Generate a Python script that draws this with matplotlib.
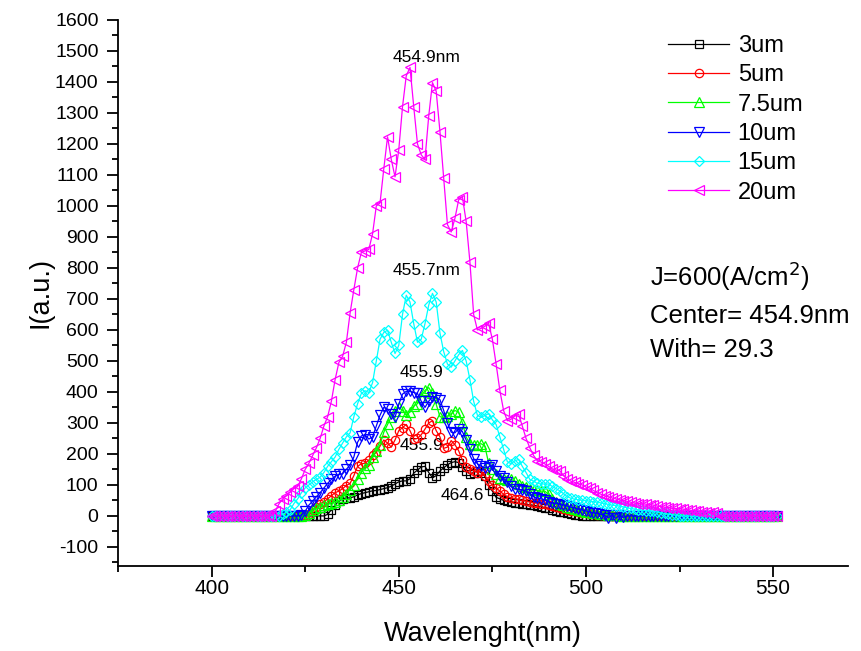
import numpy as np
import matplotlib
matplotlib.use("Agg")
import matplotlib.pyplot as plt
from matplotlib.ticker import MultipleLocator

plt.rcParams['font.family'] = ['Liberation Sans', 'DejaVu Sans']
plt.rcParams['axes.unicode_minus'] = False

# wavelength grid (nm), 400 .. 551
wavelength = np.arange(400, 552, 1)

i_3um = [
    0, 0, 0, 0, 0, 0, 0, 0, 0, 0,
    0, 0, 0, 0, 0, 0, 0, 0, 0, 0,
    0, 0, 0, 0, 0, 0, 0, 0, 0, 0,
    0, 5, 20, 35, 48, 56, 58, 58, 62, 68,
    72, 75, 78, 81, 82, 85, 88, 91, 96, 103,
    110, 113, 113, 120, 138, 148, 158, 160, 140, 123,
    130, 145, 155, 165, 172, 175, 172, 158, 145, 136,
    140, 146, 140, 128, 100, 80, 60, 55, 50, 47,
    45, 43, 41, 39, 38, 36, 34, 32, 30, 27,
    24, 20, 17, 14, 11, 8, 6, 4, 2, 0,
    0, 0, 0, 0, 0, 0, 0, 0, 0, 0,
    0, 0, 0, 0, 0, 0, 0, 0, 0, 0,
    0, 0, 0, 0, 0, 0, 0, 0, 0, 0,
    0, 0, 0, 0, 0, 0, 0, 0, 0, 0,
    0, 0, 0, 0, 0, 0, 0, 0, 0, 0,
    0, 0]

i_5um = [
    0, 0, 0, 0, 0, 0, 0, 0, 0, 0,
    0, 0, 0, 0, 0, 0, 0, 0, 0, 0,
    0, 0, 0, 0, 0, 2, 6, 20, 30, 40,
    45, 55, 65, 75, 80, 88, 98, 105, 130, 160,
    168, 170, 180, 195, 205, 225, 245, 235, 222, 245,
    275, 285, 295, 275, 248, 250, 262, 280, 300, 307,
    275, 255, 218, 222, 243, 230, 210, 180, 158, 152,
    146, 140, 145, 130, 112, 100, 90, 80, 70, 62,
    58, 56, 53, 50, 48, 45, 43, 41, 40, 39,
    36, 32, 29, 26, 23, 20, 17, 15, 12, 10,
    8, 7, 5, 4, 3, 2, 1, 0, 0, 0,
    0, 0, 0, 0, 0, 0, 0, 0, 0, 0,
    0, 0, 0, 0, 0, 0, 0, 0, 0, 0,
    0, 0, 0, 0, 0, 0, 0, 0, 0, 0,
    0, 0, 0, 0, 0, 0, 0, 0, 0, 0,
    0, 0]

i_7_5um = [
    0, 0, 0, 0, 0, 0, 0, 0, 0, 0,
    0, 0, 0, 0, 0, 0, 0, 0, 0, 0,
    0, 0, 0, 0, 0, 3, 10, 18, 25, 30,
    35, 38, 42, 46, 50, 60, 72, 85, 100, 120,
    140, 155, 165, 190, 210, 230, 270, 295, 320, 340,
    350, 340, 325, 335, 355, 362, 385, 405, 414, 395,
    360, 320, 318, 322, 330, 340, 335, 300, 255, 233,
    228, 230, 233, 225, 170, 150, 135, 123, 118, 115,
    118, 112, 104, 98, 92, 88, 85, 82, 80, 80,
    70, 55, 45, 40, 35, 30, 26, 22, 19, 16,
    14, 12, 10, 8, 7, 5, 4, 3, 2, 1,
    0, 0, 0, 0, 0, 0, 0, 0, 0, 0,
    0, 0, 0, 0, 0, 0, 0, 0, 0, 0,
    0, 0, 0, 0, 0, 0, 0, 0, 0, 0,
    0, 0, 0, 0, 0, 0, 0, 0, 0, 0,
    0, 0]

i_10um = [
    0, 0, 0, 0, 0, 0, 0, 0, 0, 0,
    0, 0, 0, 0, 0, 0, 0, 0, 0, 0,
    0, 0, 0, 0, 3, 15, 35, 48, 62, 75,
    90, 105, 118, 128, 134, 136, 150, 165, 190, 238,
    258, 262, 248, 255, 290, 325, 350, 345, 330, 318,
    360, 393, 402, 402, 398, 395, 370, 350, 370, 385,
    382, 375, 340, 300, 270, 268, 282, 272, 245, 215,
    185, 168, 160, 155, 158, 165, 145, 128, 122, 110,
    95, 88, 86, 84, 80, 72, 62, 58, 55, 52,
    45, 42, 40, 39, 36, 32, 28, 26, 22, 19,
    16, 13, 10, 8, 5, 2, -6, 4, -8, 3,
    -5, 0, 0, 0, 0, 0, 0, 0, 0, 0,
    0, 0, 0, 0, 0, 0, 0, 0, 0, 0,
    0, 0, 0, 0, 0, 0, 0, 0, 0, 0,
    0, 0, 0, 0, 0, 0, 0, 0, 0, 0,
    0, 0]

i_15um = [
    0, 0, 0, 0, 0, 0, 0, 0, 0, 0,
    0, 0, 0, 0, 0, 0, 0, 0, 0, 5,
    12, 20, 40, 55, 75, 90, 100, 110, 118, 125,
    140, 160, 175, 190, 215, 235, 255, 268, 320, 362,
    395, 404, 398, 430, 500, 570, 592, 599, 560, 524,
    550, 650, 712, 690, 620, 560, 570, 620, 680, 718,
    690, 590, 530, 490, 480, 500, 520, 534, 500, 440,
    370, 325, 318, 324, 330, 310, 295, 255, 215, 175,
    168, 178, 182, 160, 140, 118, 112, 105, 103, 103,
    103, 95, 88, 81, 72, 62, 57, 54, 52, 50,
    49, 48, 46, 44, 42, 40, 37, 35, 33, 32,
    29, 26, 24, 22, 20, 18, 17, 16, 15, 13,
    10, 8, 6, 4, 2, 0, 0, 0, 0, 0,
    0, 0, 0, 0, 0, 0, 0, 0, 0, 0,
    0, 0, 0, 0, 0, 0, 0, 0, 0, 0,
    0, 0]

i_20um = [
    0, 0, 0, 0, 0, 0, 0, 0, 0, 0,
    0, 0, 0, 0, 0, 0, 0, 15, 39, 55,
    65, 78, 88, 95, 120, 150, 170, 195, 220, 250,
    290, 320, 370, 440, 495, 515, 560, 655, 730, 800,
    850, 855, 860, 910, 1000, 1010, 1120, 1223, 1150, 1094,
    1181, 1320, 1420, 1447, 1320, 1200, 1165, 1150, 1290, 1398,
    1370, 1240, 1090, 940, 916, 960, 1020, 1029, 950, 820,
    650, 600, 605, 612, 621, 570, 490, 405, 340, 307,
    312, 322, 328, 290, 250, 220, 195, 178, 174, 168,
    160, 152, 148, 146, 130, 118, 112, 108, 104, 100,
    93, 90, 82, 75, 70, 65, 62, 58, 55, 52,
    49, 47, 44, 42, 40, 39, 38, 36, 35, 32,
    30, 28, 27, 25, 24, 23, 22, 20, 18, 17,
    16, 14, 12, 10, 12, 8, 0, 0, 0, 0,
    0, 0, 0, 0, 0, 0, 0, 0, 0, 0,
    0, 0]

series_labels = ["3um", "5um", "7.5um", "10um", "15um", "20um"]
series_values = [i_3um, i_5um, i_7_5um, i_10um, i_15um, i_20um]
series_colors = ["#000000", "#FF0000", "#00FF00", "#0000FF", "#00FFFF", "#FF00FF"]
series_markers = ["s", "o", "^", "v", "D", "<"]
series_msize = [5.5, 6, 6.5, 6.5, 5.5, 6.5]

peak_labels = ["454.9nm", "455.7nm", "455.9", "455.9", "464.6"]
peak_label_x = [457.4, 457.4, 456.1, 456.1, 467.1]
peak_label_y = [1480, 792, 462, 226, 65]

fig = plt.figure(figsize=(8.62, 6.51), dpi=100)
ax = fig.add_axes([118/862, 85.5/651, 730/862, 545.5/651])

for vals, lab, col, mk, ms in zip(series_values, series_labels, series_colors,
                                  series_markers, series_msize):
    ax.plot(wavelength, vals, color=col, marker=mk, markersize=ms,
            markerfacecolor='none', markeredgecolor=col, markeredgewidth=0.9,
            linewidth=0.9, label=lab, zorder=2)

for t, x, y in zip(peak_labels, peak_label_x, peak_label_y):
    ax.text(x, y, t, ha='center', va='center', fontsize=12.5, zorder=1)

ax.set_xlim(375, 570)
ax.set_ylim(-160, 1600)
ax.xaxis.set_minor_locator(MultipleLocator(25))
ax.yaxis.set_minor_locator(MultipleLocator(50))
ax.set_xticks([400, 450, 500, 550])
ax.set_yticks(np.arange(-100, 1601, 100))

for s in ['top', 'right']:
    ax.spines[s].set_visible(False)
for s in ['left', 'bottom']:
    ax.spines[s].set_linewidth(1.3)

ax.tick_params(axis='both', which='major', direction='out', length=8, width=1.3,
               labelsize=14, pad=5)
ax.tick_params(axis='both', which='minor', direction='out', length=4.5, width=1.3)
ax.tick_params(axis='y', which='major', pad=6)
ax.tick_params(axis='x', which='major', pad=2, labelsize=15)

ax.set_xlabel("Wavelenght(nm)", fontsize=19.5, labelpad=16)
ax.set_ylabel("I(a.u.)", fontsize=19.5, labelpad=1)

leg = fig.legend(loc='upper left', bbox_to_anchor=(668/862, 1 - 35/651),
                 frameon=False, fontsize=17, handlelength=2.6, handletextpad=0.35,
                 labelspacing=0.31, borderpad=0, borderaxespad=0)

fig.text(650/862, 1 - 276/651, "J=600(A/cm$^2$)", fontsize=18.5, ha='left', va='center')
fig.text(650/862, 1 - 316/651, "Center= 454.9nm", fontsize=18.5, ha='left', va='center')
fig.text(650/862, 1 - 350/651, "With= 29.3", fontsize=18.5, ha='left', va='center')

fig.savefig("out.png", dpi=100)
